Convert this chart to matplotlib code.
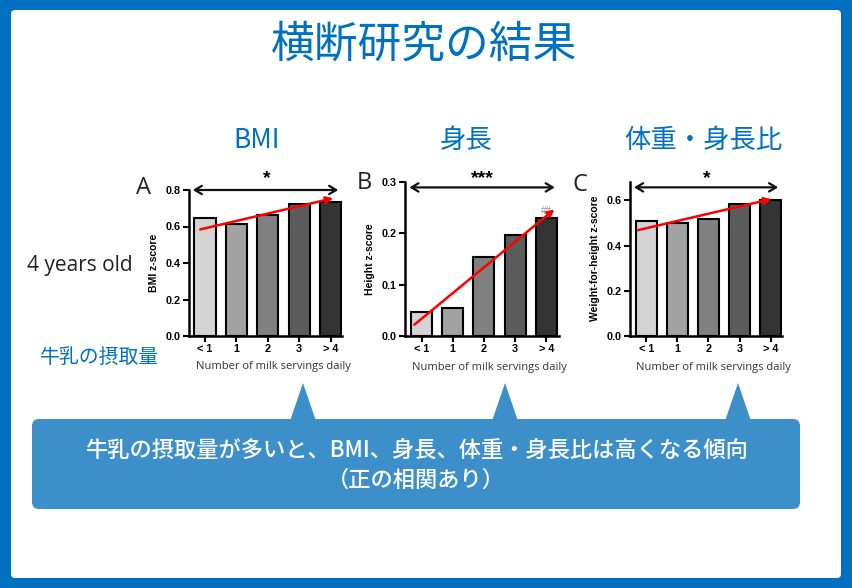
import matplotlib
matplotlib.use('Agg')
import matplotlib.pyplot as plt
from matplotlib.patches import FancyBboxPatch, Polygon

# ---- data ----
categories = ['< 1', '1', '2', '3', '> 4']
bmi_values = [0.645, 0.615, 0.663, 0.725, 0.733]
height_values = [0.046, 0.055, 0.153, 0.197, 0.230]
wfh_values = [0.508, 0.501, 0.517, 0.585, 0.601]
bar_colors = ['#d4d4d4', '#a2a2a2', '#808080', '#5c5c5c', '#343434']

bmi_ticks = [0.0, 0.2, 0.4, 0.6, 0.8]
height_ticks = [0.0, 0.1, 0.2, 0.3]
wfh_ticks = [0.0, 0.2, 0.4, 0.6]

# trend arrows: (x0, y0, x1, y1)
bmi_trend = (-0.15, 0.584, 4.08, 0.755)
height_trend = (-0.23, 0.0215, 4.26, 0.247)
wfh_trend = (-0.27, 0.468, 4.02, 0.606)

BLUE = '#0070c0'
JP = ['Noto Sans CJK JP', 'DejaVu Sans']
LAT = ['Liberation Sans', 'DejaVu Sans']

fig = plt.figure(figsize=(8.52, 5.88), dpi=100)
fig.patch.set_facecolor(BLUE)

bg = fig.add_axes([0, 0, 1, 1])
bg.set_xlim(0, 852)
bg.set_ylim(588, 0)
bg.axis('off')
bg.add_patch(FancyBboxPatch((11, 10), 830, 568, boxstyle='round,pad=0,rounding_size=4',
                            fc='white', ec='none'))

bg.text(424, 45, '横断研究の結果', family=JP, fontsize=31.5, color=BLUE, ha='center', va='center')
bg.text(257, 140, 'BMI', family=JP, fontsize=19, color=BLUE, ha='center', va='center')
bg.text(466, 140, '身長', family=JP, fontsize=19, color=BLUE, ha='center', va='center')
bg.text(703, 140, '体重・身長比', family=JP, fontsize=19, color=BLUE, ha='center', va='center')
bg.text(80, 265, '4 years old', family=['Open Sans', 'DejaVu Sans'], fontsize=15,
        color='#222222', ha='center', va='center')
bg.text(100, 358, '牛乳の摂取量', family=JP, fontsize=14.3, color=BLUE, ha='center', va='center')

for lbl, (lx, ly) in zip(['A', 'B', 'C'], [(143, 188), (364, 183), (580, 185)]):
    bg.text(lx, ly, lbl, family=['Open Sans', 'DejaVu Sans'], fontsize=17, color='#222222',
            ha='center', va='center')

# callout
CALL = '#3d8fca'
for ax_x in [303, 505, 738]:
    bg.add_patch(Polygon([(ax_x - 13, 421), (ax_x, 383), (ax_x + 13, 421)], closed=True,
                         fc=CALL, ec='none'))
bg.add_patch(FancyBboxPatch((32, 419), 768, 90, boxstyle='round,pad=0,rounding_size=7',
                            fc=CALL, ec='none'))
bg.text(416, 450, '牛乳の摂取量が多いと、BMI、身長、体重・身長比は高くなる傾向', family=JP,
        fontsize=16, fontweight='medium', color='white', ha='center', va='center')
bg.text(416, 480, '（正の相関あり）', family=JP, fontsize=16, fontweight='medium', color='white',
        ha='center', va='center')


def make_panel(left, right, bottom, top, xlim, ylim, values, ticks, ylabel, trend,
               arrow_y, stars, star_y):
    ax = fig.add_axes([left / 852, (588 - bottom) / 588, (right - left) / 852, (bottom - top) / 588])
    ax.set_facecolor('none')
    x = list(range(len(categories)))
    ax.bar(x, values, width=0.67, color=bar_colors, edgecolor='black', linewidth=1.5, zorder=2)
    ax.set_xlim(*xlim)
    ax.set_ylim(*ylim)
    ax.set_xticks(x)
    ax.set_xticklabels(categories)
    ax.set_yticks(ticks)
    ax.set_yticklabels(['%.1f' % t for t in ticks])
    for s in ['top', 'right']:
        ax.spines[s].set_visible(False)
    for s in ['left', 'bottom']:
        ax.spines[s].set_linewidth(1.8)
    ax.tick_params(axis='both', direction='out', length=4, width=1.5, pad=2)
    for t in ax.get_xticklabels() + ax.get_yticklabels():
        t.set_family(LAT)
        t.set_fontweight('bold')
        t.set_fontsize(7.8)
    ax.set_ylabel(ylabel, family=LAT, fontweight='bold', fontsize=7.5, labelpad=5)
    ax.set_xlabel('Number of milk servings daily', family=['Open Sans', 'DejaVu Sans'],
                  fontsize=8, color='#333333', labelpad=4)
    ax.xaxis.set_label_coords(0.55, -0.17)
    ax.annotate('', xy=(trend[2], trend[3]), xytext=(trend[0], trend[1]),
                arrowprops=dict(arrowstyle='-|>', color='#ff0000', lw=1.8,
                                mutation_scale=10, shrinkA=0, shrinkB=0),
                annotation_clip=False, zorder=5)
    ax.annotate('', xy=(-0.39, arrow_y), xytext=(xlim[1] - 0.12, arrow_y),
                arrowprops=dict(arrowstyle='<->,head_length=0.5,head_width=0.3', color='#111111',
                                lw=1.6, shrinkA=0, shrinkB=0),
                annotation_clip=False, zorder=5)
    ax.text(1.95, star_y, stars, family=LAT, fontweight='bold', fontsize=14, ha='center',
            va='center', clip_on=False)
    return ax


make_panel(189, 342, 336, 190, (-0.51, 4.36), (0, 0.8), bmi_values, bmi_ticks,
           'BMI z-score', bmi_trend, 0.8, '*', 0.862)
axb = make_panel(405.3, 558.5, 335.7, 182.3, (-0.52, 4.39), (0, 0.3), height_values,
                 height_ticks, 'Height z-score', height_trend, 0.29, '***', 0.308)
axb.text(4.0, 0.2445, '##', family=LAT, fontsize=7, color='#8a8a8a', ha='center', va='center',
         zorder=1)
make_panel(630.3, 781.9, 335.7, 181.7, (-0.51, 4.36), (0, 0.683), wfh_values, wfh_ticks,
           'Weight-for-height z-score', wfh_trend, 0.658, '*', 0.698)

fig.savefig('out.png', dpi=100, facecolor=fig.get_facecolor())
